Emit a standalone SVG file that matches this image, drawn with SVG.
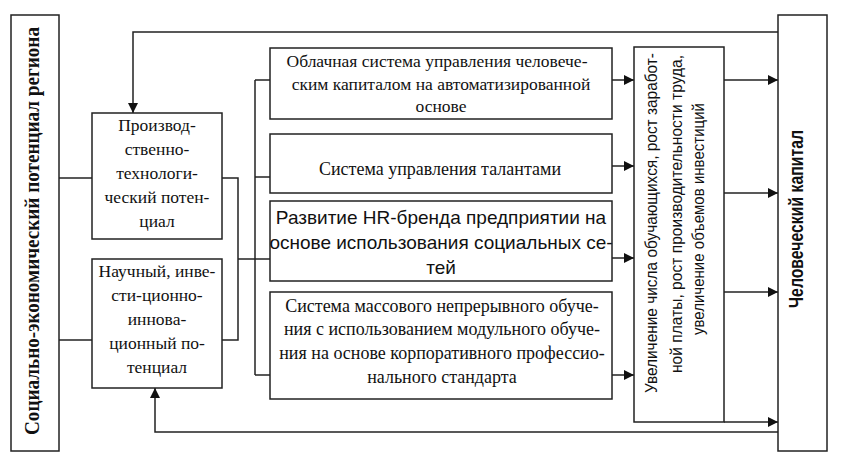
<svg xmlns="http://www.w3.org/2000/svg" width="845" height="472" viewBox="0 0 845 472">
<defs>
<marker id="arr" viewBox="0 0 10 10" refX="10" refY="5" markerWidth="10" markerHeight="10" markerUnits="userSpaceOnUse" orient="auto">
<path d="M0,0 L10,5 L0,10 z" fill="#111"/>
</marker>
<style>
.box{fill:#fff;stroke:#222;stroke-width:1.5}
.ln{fill:none;stroke:#222;stroke-width:1.5}
.ar{fill:none;stroke:#222;stroke-width:1.5;marker-end:url(#arr)}
.serif{font-family:"Liberation Serif","Times New Roman",serif;fill:#111}
.sans{font-family:"Liberation Sans",Arial,sans-serif;fill:#111}
.c{text-anchor:middle}
</style>
</defs>
<rect width="845" height="472" fill="#fff"/>
<g id="connectors">
<line class="ln" x1="59" y1="178" x2="92" y2="178"/>
<line class="ln" x1="59" y1="340" x2="92" y2="340"/>
<polyline class="ln" points="222,178 238,178 238,340 222,340"/>
<line class="ln" x1="238" y1="259" x2="270" y2="259"/>
<line class="ln" x1="255" y1="80" x2="255" y2="375"/>
<line class="ln" x1="255" y1="80" x2="270" y2="80"/>
<line class="ln" x1="255" y1="177" x2="270" y2="177"/>
<line class="ln" x1="255" y1="375" x2="270" y2="375"/>
<line class="ar" x1="612" y1="80" x2="634" y2="80"/>
<line class="ar" x1="612" y1="166" x2="634" y2="166"/>
<line class="ar" x1="612" y1="258" x2="634" y2="258"/>
<line class="ar" x1="612" y1="375" x2="634" y2="375"/>
<line class="ar" x1="724" y1="80" x2="778" y2="80"/>
<line class="ar" x1="724" y1="193" x2="778" y2="193"/>
<line class="ar" x1="724" y1="292" x2="778" y2="292"/>
<line class="ar" x1="724" y1="422" x2="778" y2="422"/>
<polyline class="ar" points="778,32 133,32 133,113"/>
<polyline class="ar" points="778,432 155,432 155,388"/>
</g>
<g id="region">
<rect class="box" x="11" y="15" width="48" height="436"/>
<text class="serif c" font-size="20" font-weight="bold" transform="translate(39,231) rotate(-90)" textLength="408" lengthAdjust="spacingAndGlyphs">Социально-экономический потенциал региона</text>
</g>
<g id="capital">
<rect class="box" x="778" y="15" width="49" height="436"/>
<text class="sans c" font-size="21" font-weight="bold" transform="translate(803,219) rotate(-90)" textLength="178" lengthAdjust="spacingAndGlyphs">Человеческий капитал</text>
</g>
<g id="production">
<rect class="box" x="92" y="113" width="130" height="126"/>
<text class="serif c" font-size="17.5"><tspan x="157" y="131">Производ-</tspan><tspan x="157" y="155">ственно-</tspan><tspan x="157" y="179">технологи-</tspan><tspan x="157" y="203">ческий потен-</tspan><tspan x="157" y="227">циал</tspan></text>
</g>
<g id="science">
<rect class="box" x="92" y="259" width="130" height="129"/>
<text class="serif c" font-size="17.5"><tspan x="157" y="277">Научный, инве-</tspan><tspan x="157" y="301">сти-ционно-</tspan><tspan x="157" y="325">иннова-</tspan><tspan x="157" y="349">ционный по-</tspan><tspan x="157" y="373">тенциал</tspan></text>
</g>
<g id="cloud">
<rect class="box" x="270" y="48" width="342" height="71"/>
<text class="serif c" font-size="17.5"><tspan x="437" y="67">Облачная система управления человече-</tspan><tspan x="441" y="90">ским капиталом на автоматизированной</tspan><tspan x="441" y="112">основе</tspan></text>
</g>
<g id="talent">
<rect class="box" x="270" y="134" width="342" height="59"/>
<text class="serif c" font-size="18" x="440" y="175">Система управления талантами</text>
</g>
<g id="hrbrand">
<rect class="box" x="270" y="201" width="342" height="80"/>
<text class="sans c" font-size="19"><tspan x="441" y="224">Развитие HR-бренда предприятии на</tspan><tspan x="441" y="249">основе использования социальных се-</tspan><tspan x="441" y="274">тей</tspan></text>
</g>
<g id="training">
<rect class="box" x="270" y="292" width="342" height="107"/>
<text class="serif c" font-size="18"><tspan x="442" y="312">Система массового непрерывного обуче-</tspan><tspan x="442" y="335">ния с использованием модульного обуче-</tspan><tspan x="442" y="359">ния на основе корпоративного профессио-</tspan><tspan x="442" y="383">нального стандарта</tspan></text>
</g>
<g id="results">
<rect class="box" x="634" y="47" width="90" height="375"/>
<text class="sans" font-size="17" transform="translate(657,393) rotate(-90)" textLength="340" lengthAdjust="spacingAndGlyphs">Увеличение числа обучающихся, рост заработ-</text>
<text class="sans" font-size="17" transform="translate(682,373) rotate(-90)" textLength="318" lengthAdjust="spacingAndGlyphs">ной платы, рост производительности труда,</text>
<text class="sans" font-size="17" transform="translate(704,335) rotate(-90)" textLength="232" lengthAdjust="spacingAndGlyphs">увеличение объемов инвестиций</text>
</g>
</svg>
